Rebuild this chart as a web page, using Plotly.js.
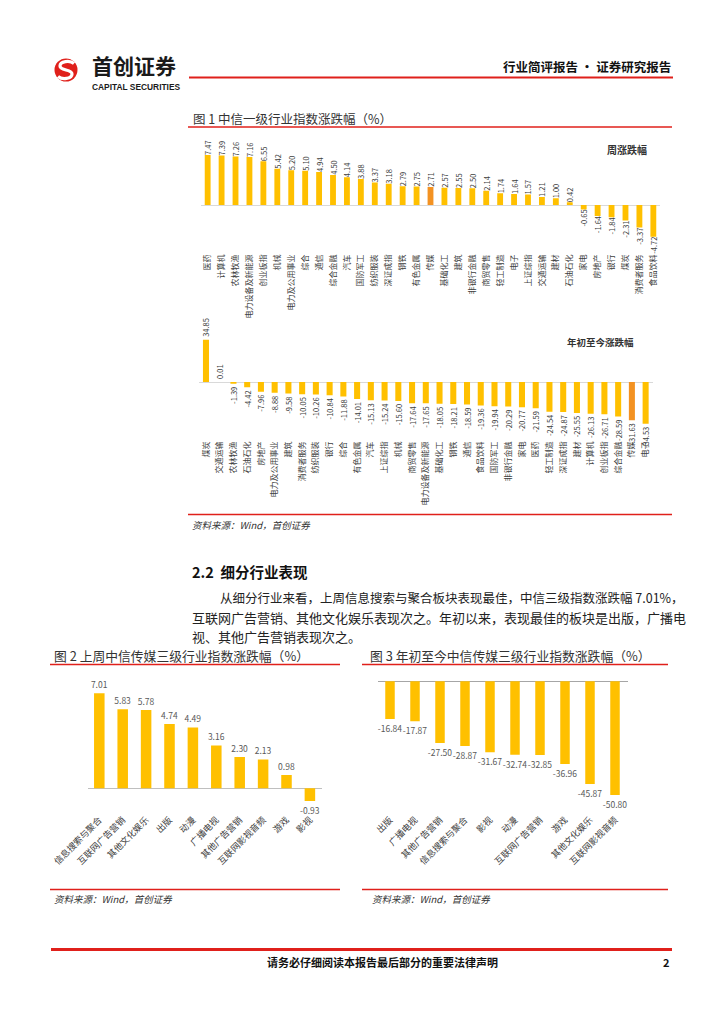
<!DOCTYPE html>
<html><head><meta charset="utf-8">
<script src="https://cdn.plot.ly/plotly-3.0.1.min.js"></script>
<style>html,body{margin:0;padding:0;background:#fff}#page{width:724px;height:1024px}</style>
</head><body><div id="page"></div>
<script>
// ---------- data ----------
const weekCats = ['医药','计算机','农林牧渔','电力设备及新能源','创业板指','机械','电力及公用事业','综合','通信','综合金融','汽车','国防军工','纺织服装','深证成指','钢铁','有色金属','传媒','基础化工','建筑','非银行金融','商贸零售','轻工制造','电子','上证综指','交通运输','建材','石油石化','家电','房地产','银行','煤炭','消费者服务','食品饮料'];
const weekVals = [7.47,7.39,7.26,7.16,6.55,5.42,5.20,5.10,4.94,4.50,4.14,3.88,3.37,3.18,2.79,2.75,2.71,2.57,2.55,2.50,2.14,1.74,1.64,1.57,1.21,1.00,0.42,-0.65,-1.64,-1.84,-2.31,-3.37,-4.72];
const ytdCats = ['煤炭','交通运输','农林牧渔','石油石化','房地产','电力及公用事业','建筑','消费者服务','纺织服装','银行','综合','有色金属','汽车','上证综指','机械','商贸零售','电力设备及新能源','基础化工','钢铁','通信','食品饮料','国防军工','非银行金融','家电','医药','轻工制造','深证成指','建材','计算机','创业板指','综合金融','传媒','电子'];
const ytdVals = [34.85,0.01,-1.39,-4.42,-7.96,-8.88,-9.58,-10.05,-10.26,-10.84,-11.88,-14.01,-15.13,-15.24,-15.60,-17.64,-17.65,-18.05,-18.21,-18.59,-19.36,-19.94,-20.29,-20.77,-21.59,-24.54,-24.87,-25.55,-26.13,-26.71,-28.59,-31.63,-34.53];
const highlightCat = '传媒';
const mediaWeekCats = ['信息搜索与聚合','互联网广告营销','其他文化娱乐','出版','动漫','广播电视','其他广告营销','互联网影视音频','游戏','影视'];
const mediaWeekVals = [7.01,5.83,5.78,4.74,4.49,3.16,2.30,2.13,0.98,-0.93];
const mediaYtdCats = ['出版','广播电视','其他广告营销','信息搜索与聚合','影视','动漫','互联网广告营销','游戏','其他文化娱乐','互联网影视音频'];
const mediaYtdVals = [-16.84,-17.87,-27.50,-28.87,-31.67,-32.74,-32.85,-36.96,-45.87,-50.80];

// ---------- helpers ----------
const W = 724, H = 1024;
const px = x => x / W;
const py = y => 1 - y / H;
const FONT = '"Noto Sans CJK SC", "Noto Sans", sans-serif';
const GOLD = '#FFC000', ORANGE = '#F39222', RED = '#E0201B';

function bar(cats, vals, ax, opts) {
  return {
    type: 'bar', x: cats, y: vals, xaxis: 'x' + ax, yaxis: 'y' + ax,
    width: opts.width,
    marker: {color: cats.map(c => (opts.hl && c === highlightCat) ? ORANGE : GOLD)},
    text: vals.map(v => v.toFixed(2)),
    textposition: 'outside', textangle: opts.angle,
    textfont: {family: FONT, size: opts.tsize, color: opts.tcolor},
    cliponaxis: false, constraintext: 'none', hoverinfo: 'skip'
  };
}
const data = [
  bar(weekCats, weekVals, '', {width: 0.42, angle: -90, tsize: 7.5, tcolor: '#404040', hl: true}),
  bar(ytdCats, ytdVals, '2', {width: 0.44, angle: -90, tsize: 7.5, tcolor: '#404040', hl: true}),
  bar(mediaWeekCats, mediaWeekVals, '3', {width: 0.45, angle: 0, tsize: 8.5, tcolor: '#595959'}),
  bar(mediaYtdCats, mediaYtdVals, '4', {width: 0.38, angle: 0, tsize: 8.5, tcolor: '#595959'})
];

function xax(l, r, anchor, n, angle, fsize) {
  return {domain: [px(l), px(r)], anchor: anchor, type: 'category', range: [-0.5, n - 0.5],
    tickangle: angle, tickfont: {family: FONT, size: fsize, color: '#404040'},
    showline: false, showgrid: false, zeroline: false, ticks: '', fixedrange: true};
}
function yax(bottom, top, range, zc) {
  return {domain: [py(bottom), py(top)], range: range, showticklabels: false, showgrid: false,
    zeroline: true, zerolinecolor: zc, zerolinewidth: 1, showline: false, ticks: '', fixedrange: true};
}

function line(x0, y0, x1, y1, w, c) {
  return {type: 'line', xref: 'paper', yref: 'paper', x0: px(x0), y0: py(y0), x1: px(x1), y1: py(y1),
    line: {color: c || RED, width: w}};
}
function txt(x, y, s, size, o) {
  o = o || {};
  return {xref: 'paper', yref: 'paper', x: px(x), y: py(y), text: s, showarrow: false,
    xanchor: o.xa || 'left', yanchor: 'middle',
    font: {family: o.family || FONT, size: size, color: o.color || '#222'}};
}
function pathPx(pts) {
  return pts.map(p => px(p[0]).toFixed(5) + ',' + py(p[1]).toFixed(5)).join(' ');
}

const shapes = [
  {type: 'circle', xref: 'paper', yref: 'paper', x0: px(54.5), x1: px(77.5), y0: py(81.5), y1: py(58.5),
    fillcolor: RED, line: {width: 0}},
  {type: 'path', xref: 'paper', yref: 'paper',
    path: 'M ' + pathPx([[74,63.5]]) + ' C ' + pathPx([[70,60],[60,61],[60,66]]) + ' C ' + pathPx([[60,71],[72,69],[72,74]]) + ' C ' + pathPx([[72,79],[62,80],[58,76.5]]),
    line: {color: '#fff', width: 3.2}},
  line(189, 77.5, 673, 77.5, 2),
  line(188, 127, 672, 127, 1.5),
  line(188, 514.5, 672, 514.5, 1.5),
  line(50, 664.5, 340, 664.5, 1.5),
  line(362, 664.5, 668, 664.5, 1.5),
  line(50, 889.5, 340, 889.5, 1.5),
  line(362, 889.5, 668, 889.5, 1.5),
  line(51, 949.5, 672, 949.5, 3)
];

const annotations = [
  txt(90, 65, '<b>首创证券</b>', 21, {color: '#1a1a1a'}),
  txt(90, 86.5, '<b>CAPITAL SECURITIES</b>', 8.4, {family: '"Liberation Sans", Arial, sans-serif', color: '#1a1a1a'}),
  txt(673, 66.5, '<b>行业简评报告 · 证券研究报告</b>', 12.5, {xa: 'right', color: '#111'}),
  txt(191, 118, '图 1 中信一级行业指数涨跌幅（%）', 12.5, {color: '#333'}),
  txt(627, 149, '<b>周涨跌幅</b>', 10, {xa: 'center', color: '#333'}),
  txt(600, 342, '<b>年初至今涨跌幅</b>', 9.5, {xa: 'center', color: '#333'}),
  txt(190, 525, '<i>资料来源：Wind，首创证券</i>', 9.5, {color: '#333'}),
  txt(190, 571, '<b>2.2  细分行业表现</b>', 14.5, {color: '#111'}),
  txt(218, 597, '从细分行业来看，上周信息搜索与聚合板块表现最佳，中信三级指数涨跌幅 7.01%，', 12.5, {color: '#222'}),
  txt(190, 617, '互联网广告营销、其他文化娱乐表现次之。年初以来，表现最佳的板块是出版，广播电', 13, {color: '#222'}),
  txt(190, 636, '视、其他广告营销表现次之。', 13, {color: '#222'}),
  txt(52, 655, '图 2 上周中信传媒三级行业指数涨跌幅（%）', 12.8, {color: '#333'}),
  txt(368, 655, '图 3 年初至今中信传媒三级行业指数涨跌幅（%）', 12.8, {color: '#333'}),
  txt(52, 899, '<i>资料来源：Wind，首创证券</i>', 9.5, {color: '#333'}),
  txt(370, 899, '<i>资料来源：Wind，首创证券</i>', 9.5, {color: '#333'}),
  txt(382, 962, '<b>请务必仔细阅读本报告最后部分的重要法律声明</b>', 11, {xa: 'center', color: '#111'}),
  txt(672, 962, '<b>2</b>', 11, {xa: 'right', color: '#111'})
];

const layout = {
  width: W, height: H, margin: {l: 0, r: 0, t: 0, b: 0},
  paper_bgcolor: '#fff', plot_bgcolor: 'rgba(0,0,0,0)', showlegend: false,
  font: {family: FONT},
  xaxis: xax(200.7, 660.3, 'y', weekCats.length, -90, 8),
  yaxis: yax(252, 145, [-7.01, 8.96], '#d9d9d9'),
  xaxis2: xax(199.1, 652.5, 'y2', ytdCats.length, -90, 8),
  yaxis2: yax(439, 330, [-47.1, 43], '#d9d9d9'),
  xaxis3: xax(87.6, 321.6, 'y3', mediaWeekCats.length, -45, 9),
  yaxis3: yax(812, 680, [-1.75, 7.99], '#bfbfbf'),
  xaxis4: xax(377.5, 627.5, 'y4', mediaYtdCats.length, -45, 9),
  yaxis4: yax(812, 675, [-58.35, 2.81], '#a6a6a6'),
  shapes: shapes, annotations: annotations
};
Plotly.newPlot('page', data, layout, {staticPlot: true, displayModeBar: false});
</script></body></html>
